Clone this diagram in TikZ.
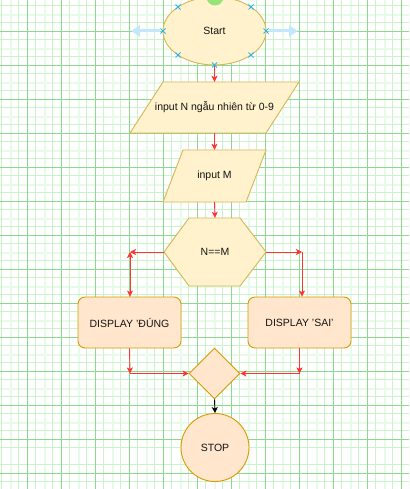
\documentclass[tikz,border=0pt]{standalone}
\usepackage{fontspec}
\setmainfont{Liberation Sans}
\usetikzlibrary{shapes.geometric,arrows.meta}
\definecolor{yfill}{HTML}{FFF2CC}
\definecolor{ydraw}{HTML}{D6B656}
\definecolor{ofill}{HTML}{FFE6CC}
\definecolor{odraw}{HTML}{D79B00}
\definecolor{redline}{RGB}{255,51,51}
\definecolor{gmajor}{RGB}{140,216,140}
\definecolor{gminor}{RGB}{204,242,204}
\definecolor{ghalf}{RGB}{232,251,232}
\definecolor{handlec}{RGB}{41,182,242}
\definecolor{hoverc}{RGB}{195,232,250}
\definecolor{rothandle}{RGB}{150,228,120}
\definecolor{txt}{RGB}{20,20,20}
\begin{document}
\begin{tikzpicture}[x=1pt,y=-1pt,
  font=\fontsize{10.5}{12.5}\selectfont,
  yshape/.style={draw=ydraw, fill=yfill, line width=0.9pt},
  oshape/.style={draw=odraw, fill=ofill, line width=0.9pt},
  frame/.style={inner sep=0pt, text=txt},
  redarrow/.style={draw=redline, line width=0.9pt, -{Stealth[length=6pt,width=6pt,inset=1.5pt]}},
  blackarrow/.style={draw=black, line width=0.9pt, -{Stealth[length=6pt,width=6pt,inset=1.5pt]}},
  gridmajor/.style={draw=gmajor, line width=1pt},
  gridminor/.style={draw=gminor, line width=1pt},
  gridhalf/.style={draw=ghalf, line width=2pt},
  handlemark/.style={draw=handlec, line width=0.9pt},
  hoverarrow/.style={draw=hoverc, line width=3pt, -{Triangle[length=9pt,width=11pt]}}
]
\useasboundingbox (0,0) rectangle (409,489);
\clip (0,0) rectangle (409,489);
\fill[white] (0,0) rectangle (409,489);
% grid
\foreach \k in {0,...,12} {
  \draw[gridhalf] (11+34*\k,0) -- (11+34*\k,489);
  \draw[gridhalf] (0,15+34*\k) -- (409,15+34*\k);
}
\foreach \k in {0,...,28} {
  \draw[gridminor] (1.5+17*\k,0) -- (1.5+17*\k,489);
  \draw[gridminor] (0,5.5+17*\k) -- (409,5.5+17*\k);
}
\foreach \k in {0,...,14} {
  \draw[gridmajor] (27.5+34*\k,0) -- (27.5+34*\k,489);
  \draw[gridmajor] (0,-2.5+34*\k) -- (409,-2.5+34*\k);
}
% shapes
\node[ellipse, yshape, frame, minimum width=103, minimum height=68] (start) at (214.5,31) {Start};
\draw[yshape] (163,82) -- (299,82) -- (266,133) -- (130,133) -- cycle;
\node[frame, minimum width=169, minimum height=51] (in1) at (214.5,107.5) {input N ngẫu nhiên từ 0-9};
\draw[yshape] (183,150) -- (266,150) -- (246,202) -- (163,202) -- cycle;
\node[frame, minimum width=103, minimum height=52] (in2) at (214.5,176) {input M};
\draw[yshape] (189,218) -- (240,218) -- (266,252) -- (240,286) -- (189,286) -- (164,252) -- cycle;
\node[frame, minimum width=102, minimum height=68] (hex) at (215,252) {N==M};
\node[oshape, frame, rounded corners=7pt, minimum width=103, minimum height=51] (d1) at (129.5,322.5) {DISPLAY 'ĐÚNG};
\node[oshape, frame, rounded corners=7pt, minimum width=103, minimum height=51] (d2) at (299.5,322.5) {DISPLAY 'SAI'};
\node[diamond, oshape, frame, minimum width=51, minimum height=51] (dia) at (214.5,373.5) {};
\node[circle, oshape, frame, minimum size=68] (stop) at (215,447.5) {STOP};
% coordinates
\coordinate (lc) at (130,252);
\coordinate (rc) at (302,252);
\coordinate (lb) at (130,373.5);
\coordinate (rb) at (299.5,373.5);
% connectors
\draw[redarrow] (start.south) -- (in1.north);
\draw[redarrow] (in1.south) -- (in2.north);
\draw[redarrow] (in2.south) -- (hex.north);
\draw[redarrow] (hex.west) -- (lc);
\draw[redarrow, {Stealth[length=6pt,width=6pt,inset=1.5pt]}-{Stealth[length=6pt,width=6pt,inset=1.5pt]}] (lc) -- (lc |- d1.north);
\draw[redarrow] (hex.east) -- (rc);
\draw[redarrow] (rc) -- (rc |- d2.north);
\draw[redarrow] (d1.south) -- (lb);
\draw[redarrow] (lb) -- (dia.west);
\draw[redarrow] (d2.south) -- (rb);
\draw[redarrow] (rb) -- (dia.east);
\draw[blackarrow] (dia.south) -- (stop.north);
% selection handles on Start
\draw[hoverarrow] (160,31) -- (131,31);
\draw[hoverarrow] (269,31) -- (298,31);
\foreach \px/\py in {163/31, 266/31, 214.5/65, 178/7, 251/7, 178/55, 251/55} {
  \draw[handlemark] (\px-2.5,\py-2.5) -- (\px+2.5,\py+2.5) (\px-2.5,\py+2.5) -- (\px+2.5,\py-2.5);
}
\fill[rothandle] (215,-3) circle (8.5);
\end{tikzpicture}
\end{document}
